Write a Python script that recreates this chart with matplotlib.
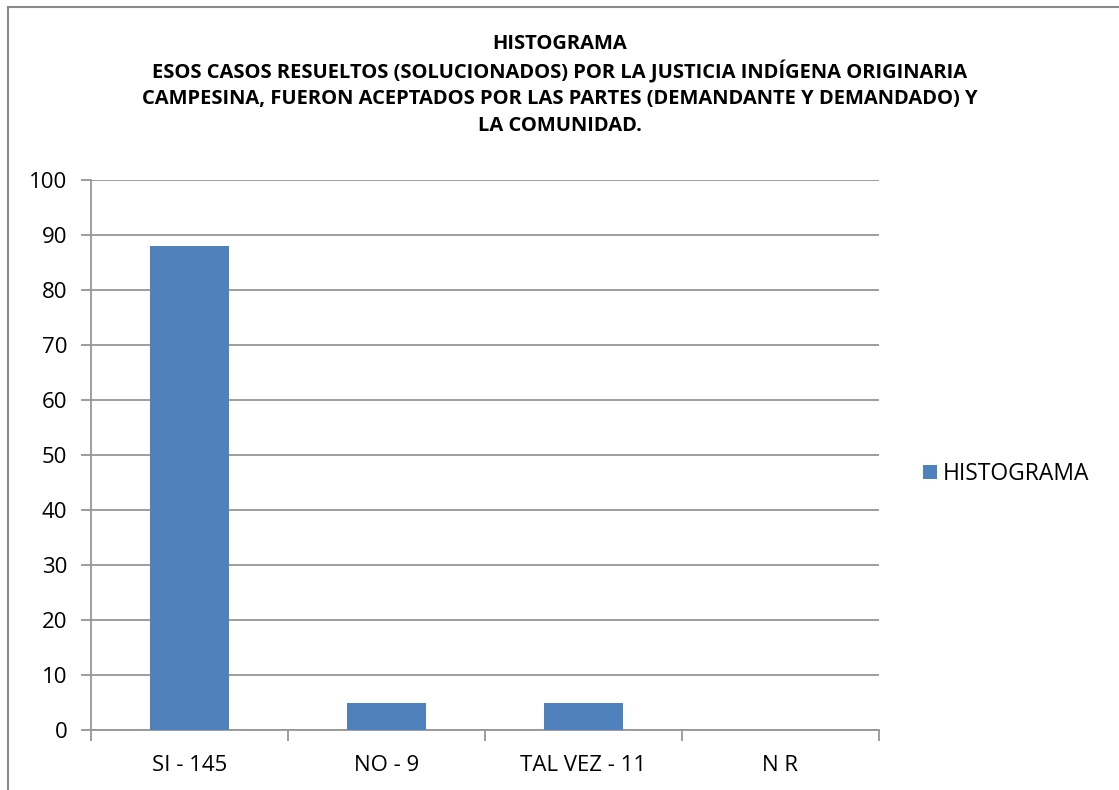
import matplotlib
matplotlib.use("Agg")
import matplotlib.pyplot as plt
from matplotlib.lines import Line2D
from matplotlib.patches import Patch

categories = ["SI - 145", "NO - 9", "TAL VEZ - 11", "N R"]
values = [88, 5, 5, 0]
series_name = "HISTOGRAMA"
title_lines = [
    "HISTOGRAMA",
    "ESOS CASOS RESUELTOS (SOLUCIONADOS) POR LA JUSTICIA INDÍGENA ORIGINARIA",
    "CAMPESINA, FUERON ACEPTADOS POR LAS PARTES (DEMANDANTE Y DEMANDADO) Y",
    "LA COMUNIDAD.",
]
yticks = list(range(0, 101, 10))

plt.rcParams['font.family'] = ['Open Sans', 'DejaVu Sans']

W, H = 1119, 790
fig = plt.figure(figsize=(W / 100, H / 100), dpi=100)
ax = fig.add_axes([91 / W, 1 - 730 / H, (879 - 91) / W, (730 - 180) / H])

gray = '#969696'
fs = 16
x = list(range(len(categories)))
ax.bar(x, values, width=0.405, color='#4F81BD', label=series_name, zorder=3)
ax.set_xlim(-0.5, len(categories) - 0.5)
ax.set_ylim(0, 100)
ax.set_yticks(yticks)
ax.set_yticklabels([str(v) for v in yticks], fontsize=fs)
ax.yaxis.grid(True, color=gray, linewidth=1.3, zorder=0)
ax.set_xticks(x)
ax.set_xticklabels(categories, fontsize=fs)
ax.tick_params(axis='x', length=0, pad=18)
ax.set_xticks([i - 0.5 for i in range(len(categories) + 1)], minor=True)
ax.tick_params(axis='x', which='minor', length=8, width=1.3, color=gray)
ax.tick_params(axis='y', length=7, width=1.3, color=gray, pad=10)
for s in ['top', 'right']:
    ax.spines[s].set_visible(False)
for s in ['left', 'bottom']:
    ax.spines[s].set_color(gray)
    ax.spines[s].set_linewidth(1.3)

ys = [44, 72, 99, 126]
for t, yy in zip(title_lines, ys):
    fig.text(0.5, 1 - yy / H, t, ha='center', va='center', fontsize=14.5, fontweight='bold')

handles = [Patch(facecolor='#4F81BD', label=series_name)]
fig.legend(handles=handles, loc='center left', bbox_to_anchor=(902 / W, 1 - 474 / H),
           frameon=False, fontsize=16.5, handlelength=0.62, handleheight=0.62,
           handletextpad=0.25)

fig.add_artist(Line2D([8 / W, 1.0], [1 - 7 / H, 1 - 7 / H], transform=fig.transFigure,
                      color='#8a8a8a', linewidth=1.5))
fig.add_artist(Line2D([8 / W, 8 / W], [1 - 7 / H, 0], transform=fig.transFigure,
                      color='#8a8a8a', linewidth=1.5))

fig.savefig('out.png', dpi=100)
